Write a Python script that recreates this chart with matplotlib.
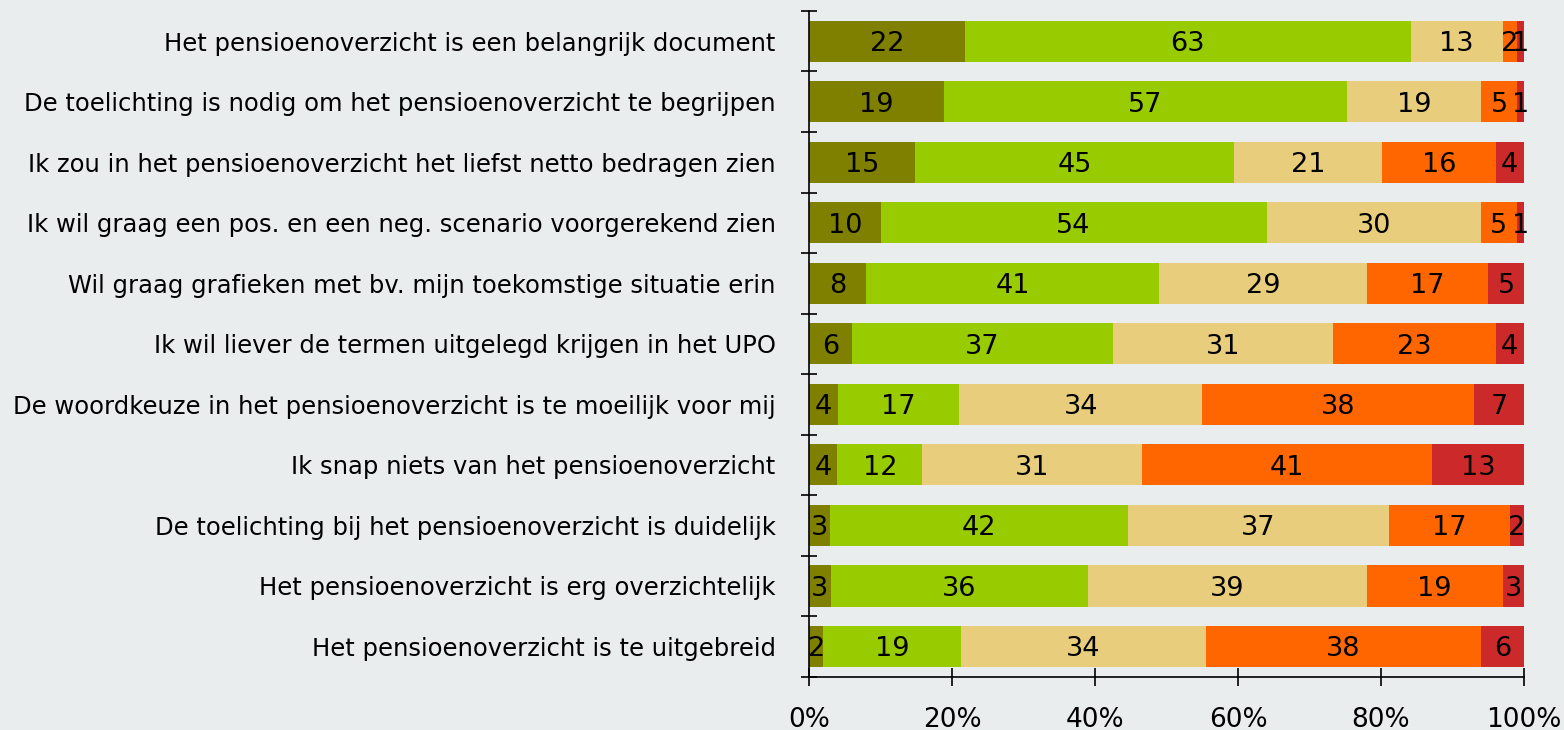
import numpy as np
import matplotlib.pyplot as plt
from matplotlib.ticker import FixedLocator, PercentFormatter

statements = [
    "Het pensioenoverzicht is een belangrijk document",
    "De toelichting is nodig om het pensioenoverzicht te begrijpen",
    "Ik zou in het pensioenoverzicht het liefst netto bedragen zien",
    "Ik wil graag een pos. en een neg. scenario voorgerekend zien",
    "Wil graag grafieken met bv. mijn toekomstige situatie erin",
    "Ik wil liever de termen uitgelegd krijgen in het UPO",
    "De woordkeuze in het pensioenoverzicht is te moeilijk voor mij",
    "Ik snap niets van het pensioenoverzicht",
    "De toelichting bij het pensioenoverzicht is duidelijk",
    "Het pensioenoverzicht is erg overzichtelijk",
    "Het pensioenoverzicht is te uitgebreid",
]

zeer_eens = [22, 19, 15, 10, 8, 6, 4, 4, 3, 3, 2]
eens = [63, 57, 45, 54, 41, 37, 17, 12, 42, 36, 19]
neutraal = [13, 19, 21, 30, 29, 31, 34, 31, 37, 39, 34]
oneens = [2, 5, 16, 5, 17, 23, 38, 41, 17, 19, 38]
zeer_oneens = [1, 1, 4, 1, 5, 4, 7, 13, 2, 3, 6]

series = [zeer_eens, eens, neutraal, oneens, zeer_oneens]
colors = ["#808000", "#99CC00", "#E8CD7C", "#FF6600", "#CC2A2A"]
bg = "#E9EDEE"

data = np.array(series, dtype=float)
# 100% stacked: each row scaled to its total
shares = data / data.sum(axis=0) * 100

fig = plt.figure(figsize=(15.64, 7.3), dpi=100, facecolor=bg)
ax = fig.add_axes([0.5173, 0.073, 0.4571, 0.912])
ax.set_facecolor(bg)

y = np.arange(len(statements))
left = np.zeros(len(statements))
for vals, pct, col in zip(data, shares, colors):
    ax.barh(y, pct, left=left, height=0.68, color=col, edgecolor="none")
    for yi, (v, p, l) in enumerate(zip(vals, pct, left)):
        ax.text(l + p / 2, yi, f"{int(v)}", ha="center", va="center_baseline",
                fontsize=19.5, color="black")
    left += pct

ax.set_xlim(0, 100)
ax.set_ylim(len(statements) - 0.5, -0.5)
ax.xaxis.set_major_locator(FixedLocator([0, 20, 40, 60, 80, 100]))
ax.xaxis.set_major_formatter(PercentFormatter(decimals=0))
ax.set_yticks(y)
ax.set_yticklabels(statements, fontsize=17.5)
ax.yaxis.set_minor_locator(FixedLocator(np.arange(-0.5, len(statements), 1)))
ax.tick_params(axis="y", which="major", length=0, pad=24)
ax.tick_params(axis="y", which="minor", direction="inout", length=12, width=1.2)
ax.tick_params(axis="x", direction="inout", length=13, width=1.2,
               labelsize=19, pad=15)

for side in ["top", "right"]:
    ax.spines[side].set_visible(False)
for side in ["left", "bottom"]:
    ax.spines[side].set_linewidth(1.2)

fig.savefig("out.png", dpi=100, facecolor=bg)
